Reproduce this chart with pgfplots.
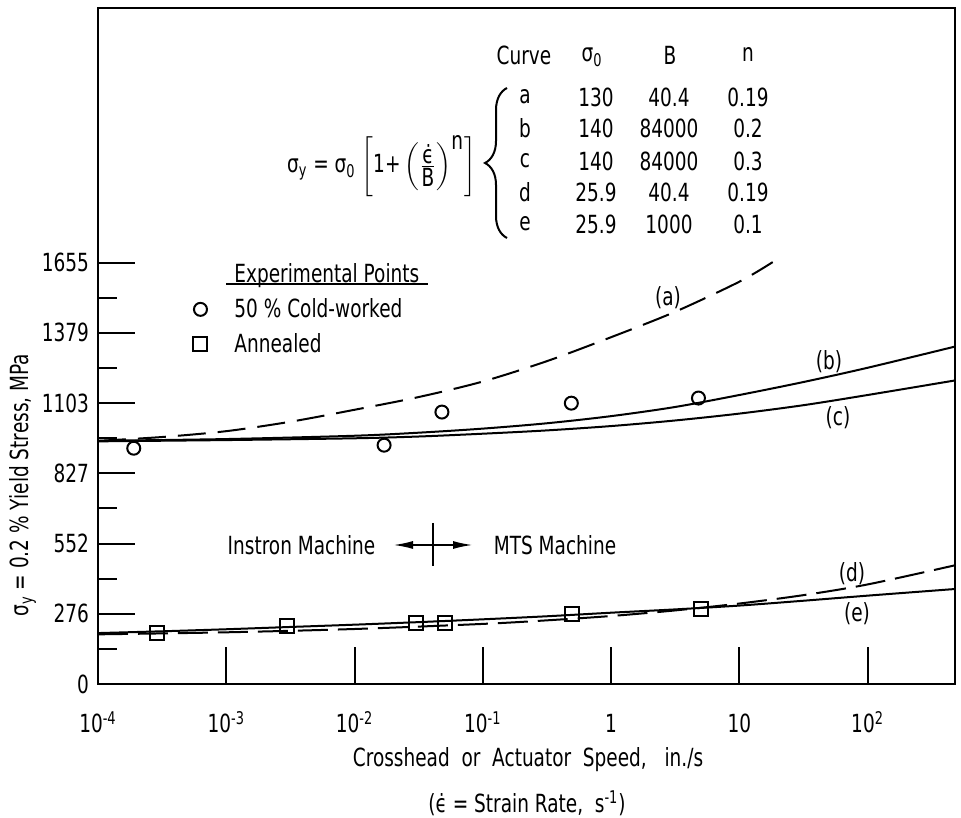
\documentclass[border=0pt]{standalone}
\usepackage{fontspec}
\setmainfont{DejaVu Sans}[FakeStretch=0.74]
\usepackage{pgfplots}
\pgfplotsset{compat=1.18}
\usetikzlibrary{arrows.meta,decorations.pathreplacing}
\newcommand\fs{\fontsize{12.5}{15}\selectfont}
\begin{document}
\begin{tikzpicture}[font=\fs]
\begin{axis}[
  at={(49pt,66.5pt)}, anchor=south west,
  scale only axis, width=428.5pt, height=338pt,
  xmode=log, xmin=1e-4, xmax=480, ymin=0, ymax=2655,
  axis line style={line width=1.2pt},
  every tick/.style={line width=1pt, black},
  tick align=inside, tick pos=left,
  major tick length=18.5pt, minor tick length=9.5pt,
  xtick={1e-4,1e-3,1e-2,1e-1,1,10,100},
  xticklabels={10\textsuperscript{-4},10\textsuperscript{-3},10\textsuperscript{-2},10\textsuperscript{-1},1,10,10\textsuperscript{2}},
  xminorticks=false,
  ytick={0,275.8,551.6,827.4,1103.2,1379,1654.7},
  yticklabels={0,276,552,827,1103,1379,1655},
  minor ytick={137.9,413.7,689.5,965.3,1241.1,1516.8},
  xticklabel style={anchor=base, yshift=-24.5pt, font=\fs},
  yticklabel style={anchor=east, xshift=-1pt, font=\fs},
  ylabel={σ\textsubscript{y} = 0.2 \% Yield Stress, MPa},
  ylabel style={at={(axis description cs:-0.0875,0.294)}, anchor=center, font=\fs},
  legend style={at={(axis description cs:0.0992,0.6228)}, anchor=north west,
    draw=none, fill=none, inner sep=0pt, row sep=6.5pt, column sep=13.5pt,
    font=\fs, nodes={inner sep=0pt}},
  legend cell align=left,
]
\addlegendimage{empty legend}
\addlegendentry{Experimental Points}
% curve (a)
\addplot[black, line width=1pt, dash pattern=on 14pt off 6pt, smooth, forget plot] coordinates {
(1e-4,955) (3.162e-4,970) (1e-3,993) (3.162e-3,1030) (1e-2,1077) (3.162e-2,1127)
(1e-1,1188) (3.162e-1,1268) (1,1362) (3.162,1462) (10,1580) (18.2,1657)};
% curve (b)
\addplot[black, line width=1pt, smooth, forget plot] coordinates {
(1e-4,955) (1e-3,962) (1e-2,975) (3.162e-2,987) (1e-1,1003) (3.162e-1,1024)
(1,1052) (3.162,1088) (10,1135) (31.62,1186) (100,1242) (478,1325)};
% curve (c)
\addplot[black, line width=1pt, smooth, forget plot] coordinates {
(1e-4,953) (1e-3,958) (1e-2,965) (3.162e-2,972) (1e-1,983) (3.162e-1,996)
(1,1013) (3.162,1035) (10,1062) (31.62,1095) (100,1135) (478,1192)};
% curve (d)
\addplot[black, line width=1pt, dash pattern=on 15pt off 5pt, smooth, forget plot] coordinates {
(1e-4,195) (1e-3,203) (1e-2,216) (1e-1,236) (3.162e-1,250) (1,267)
(3.162,289) (10,316) (31.62,349) (100,391) (478,466)};
% curve (e)
\addplot[black, line width=1pt, smooth, forget plot] coordinates {
(1e-4,200) (3.162e-4,207) (1e-3,215) (3.162e-3,224) (1e-2,233) (3.162e-2,243)
(1e-1,254) (3.162e-1,266) (1,280) (3.162,293) (10,308) (31.62,327) (100,347) (478,373)};
% experimental points
\addplot[only marks, mark=o, mark size=3.25pt, mark options={fill=white, line width=1pt}] coordinates {
(1.9e-4,926) (0.017,938) (0.048,1068) (0.49,1103) (4.8,1123)};
\addlegendentry{50 \% Cold-worked}
\addplot[only marks, mark=square, mark size=3.5pt, mark options={fill=white, line width=1pt}] coordinates {
(2.9e-4,200) (3.0e-3,228) (0.030,239) (0.051,239) (0.50,275) (5.0,296)};
\addlegendentry{Annealed}
\end{axis}
\begin{scope}[x=0.5pt, y=-0.5pt, yshift=408.5pt]
  % legend title underline
  \draw[line width=1pt] (226,284) -- (428,284);
  % curve labels
  \node at (668,298) {(a)};
  \node at (829,362) {(b)};
  \node at (838,418) {(c)};
  \node at (852,574) {(d)};
  \node at (857,614) {(e)};
  % machines
  \node at (301.5,545) {Instron Machine};
  \node at (555,545) {MTS Machine};
  \draw[line width=1pt, -{Latex[length=10pt,width=4pt]}] (433,545) -- (393,545);
  \draw[line width=1pt, -{Latex[length=10pt,width=4pt]}] (433,545) -- (473,545);
  \draw[line width=1pt] (433,523) -- (433,566);
  % x label
  \node at (528,760) {Crosshead\ \ or\ \ Actuator\ \ Speed,\ \ \ in./s};
  \node at (527,803) {(\.{ϵ} = Strain Rate,\ \ s\textsuperscript{-1})};
  % formula
  \node[anchor=west] at (280,166) {σ\textsubscript{y} = σ\textsubscript{0} $\left[\mbox{1+}\left(\frac{\mbox{\.{ϵ}}}{\mbox{B}}\right)^{\mbox{n}}\right]$};
  % brace
  \draw[line width=1pt, decorate, decoration={brace, amplitude=11pt}] (507,238) -- (507,88);
  % table header
  \node at (524,55) {Curve};
  \node at (592,57) {σ\textsubscript{0}};
  \node at (670,55) {B};
  \node at (748,55) {n};
  % table rows
  \node at (525,97) {a};  \node at (596,97) {130};  \node at (669,97) {40.4};  \node at (748,97) {0.19};
  \node at (525,128) {b}; \node at (596,128) {140}; \node at (669,128) {84000}; \node at (748,128) {0.2};
  \node at (525,161) {c}; \node at (596,161) {140}; \node at (669,161) {84000}; \node at (748,161) {0.3};
  \node at (525,192) {d}; \node at (596,192) {25.9}; \node at (669,192) {40.4}; \node at (748,192) {0.19};
  \node at (525,224) {e}; \node at (596,224) {25.9}; \node at (669,224) {1000}; \node at (748,224) {0.1};
\end{scope}
\pgfresetboundingbox
\useasboundingbox (0,0) rectangle (480.5pt,408.5pt);
\end{tikzpicture}
\end{document}
